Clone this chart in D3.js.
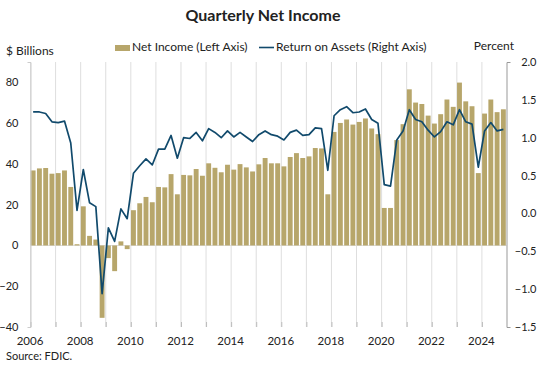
<!DOCTYPE html>
<html>
<head>
<meta charset="utf-8">
<script src="https://cdn.jsdelivr.net/npm/d3@7"></script>
<style>
  body { margin: 0; background: #fff; }
  text { font-family: Lato, "Noto Sans", sans-serif; fill: #222; }
</style>
</head>
<body>
<div id="chart"></div>
<script>
// quarterly data 2006Q1 .. 2024Q4
const firstYear = 2006;
const lastYear = 2024;

// net income, $ billions (left axis)
const netIncome = [
  36.8, 37.8, 38.0, 35.2,
  35.5, 36.8, 28.7, 0.6,
  19.2, 4.7, 2.9, -35.5,
  -6.2, -12.6, 2.0, -1.8,
  17.3, 20.7, 23.8, 21.2,
  28.7, 28.5, 35.0, 25.1,
  34.6, 34.4, 37.5, 34.2,
  40.3, 38.1, 35.9, 39.6,
  37.2, 39.9, 38.3, 36.3,
  39.8, 42.9, 40.3, 40.3,
  38.8, 43.4, 45.3, 42.9,
  43.7, 47.8, 47.6, 25.1,
  55.7, 60.1, 61.8, 59.3,
  60.6, 62.3, 57.4, 54.6,
  18.4, 18.4, 51.7, 59.5,
  76.6, 70.1, 69.4, 63.7,
  59.8, 64.4, 71.6, 68.0,
  79.9, 70.7, 68.3, 35.5,
  64.7, 71.6, 65.4, 66.8
];

// return on assets, percent (right axis)
const roa = [
  1.34, 1.34, 1.32, 1.21,
  1.20, 1.22, 0.93, 0.04,
  0.58, 0.14, 0.09, -1.06,
  -0.19, -0.37, 0.06, -0.07,
  0.53, 0.63, 0.72, 0.64,
  0.85, 0.85, 1.03, 0.73,
  1.00, 0.99, 1.07, 0.96,
  1.12, 1.07, 1.00, 1.09,
  1.01, 1.07, 1.01, 0.95,
  1.04, 1.09, 1.04, 1.02,
  0.97, 1.07, 1.10, 1.03,
  1.04, 1.13, 1.12, 0.57,
  1.29, 1.37, 1.41, 1.33,
  1.34, 1.38, 1.24, 1.19,
  0.38, 0.36, 0.97, 1.09,
  1.37, 1.24, 1.21, 1.10,
  1.01, 1.08, 1.21, 1.17,
  1.37, 1.21, 1.18, 0.61,
  1.09, 1.20, 1.09, 1.11
];

const leftTicks = [-40, -20, 0, 20, 40, 60, 80];
const rightTicks = [-1.5, -1.0, -0.5, 0.0, 0.5, 1.0, 1.5, 2.0];
const yearLabels = [2006, 2008, 2010, 2012, 2014, 2016, 2018, 2020, 2022, 2024];

const barColor = "#b7a66b";
const lineColor = "#114a6c";
const gridColor = "#dedede";

const svgWidth = 540;
const svgHeight = 367;
const plot = { left: 30, right: 506.5, top: 62, bottom: 327 };

const svg = d3.select("#chart")
  .append("svg")
  .attr("width", svgWidth)
  .attr("height", svgHeight);

const quarters = d3.range(netIncome.length);

// scales
const xBand = d3.scaleBand()
  .domain(quarters)
  .range([plot.left, plot.right])
  .paddingInner(0.22)
  .paddingOuter(0.11);

const xYear = d3.scaleLinear()
  .domain([firstYear, lastYear + 1])
  .range([plot.left, plot.right]);

const yLeft = d3.scaleLinear()
  .domain([-40, 90])
  .range([plot.bottom, plot.top]);

const yRight = d3.scaleLinear()
  .domain([-1.5, 2.0])
  .range([plot.bottom, plot.top]);

// vertical year gridlines
svg.append("g")
  .selectAll("line")
  .data(d3.range(firstYear, lastYear + 1))
  .join("line")
  .attr("x1", d => xYear(d) + 0.5)
  .attr("x2", d => xYear(d) + 0.5)
  .attr("y1", plot.top)
  .attr("y2", plot.bottom)
  .attr("stroke", gridColor)
  .attr("stroke-width", 1);

// small year ticks at the bottom
svg.append("g")
  .attr("transform", `translate(0.5,${plot.bottom})`)
  .call(d3.axisBottom(xYear)
    .tickValues(d3.range(firstYear, lastYear + 1))
    .tickSizeInner(-5)
    .tickSizeOuter(0)
    .tickFormat(""))
  .call(g => g.select(".domain").remove())
  .call(g => g.selectAll(".tick line").attr("stroke", "#bbb"));

// zero line
svg.append("line")
  .attr("x1", plot.left)
  .attr("x2", plot.right)
  .attr("y1", Math.round(yLeft(0)) + 0.5)
  .attr("y2", Math.round(yLeft(0)) + 0.5)
  .attr("stroke", gridColor);

// bars
svg.append("g")
  .selectAll("rect")
  .data(quarters)
  .join("rect")
  .attr("x", i => xBand(i))
  .attr("width", xBand.bandwidth())
  .attr("y", i => yLeft(Math.max(0, netIncome[i])))
  .attr("height", i => Math.abs(yLeft(netIncome[i]) - yLeft(0)))
  .attr("fill", barColor);

// ROA line
const line = d3.line()
  .x(i => xBand(i) + xBand.bandwidth() / 2)
  .y(i => yRight(roa[i]));

svg.append("path")
  .datum(quarters)
  .attr("d", line)
  .attr("fill", "none")
  .attr("stroke", lineColor)
  .attr("stroke-width", 1.7)
  .attr("stroke-linejoin", "round");

// left axis
svg.append("g")
  .attr("transform", `translate(${plot.left + 0.5},0)`)
  .call(d3.axisLeft(yLeft).tickValues(leftTicks).tickSizeInner(0).tickSizeOuter(3).tickPadding(12))
  .call(g => g.select(".domain").attr("stroke", "#ccc"))
  .call(g => g.selectAll(".tick text")
    .attr("font-size", "11px")
    .attr("fill", "#222"));

// right axis
svg.append("g")
  .attr("transform", `translate(${plot.right},0)`)
  .call(d3.axisRight(yRight).tickValues(rightTicks).tickFormat(d3.format(".1f"))
    .tickSizeInner(0).tickSizeOuter(4).tickPadding(30))
  .call(g => g.select(".domain").attr("stroke", "#999"))
  .call(g => g.selectAll(".tick text")
    .attr("text-anchor", "end")
    .attr("font-size", "11px")
    .attr("fill", "#222"));

// year labels
svg.append("g")
  .selectAll("text")
  .data(yearLabels)
  .join("text")
  .attr("x", d => xYear(d))
  .attr("y", 345)
  .attr("text-anchor", "middle")
  .attr("font-size", "11.5px")
  .text(d => d);

// title
svg.append("text")
  .attr("x", 263)
  .attr("y", 21)
  .attr("text-anchor", "middle")
  .attr("font-size", "16px")
  .attr("font-weight", "bold")
  .text("Quarterly Net Income");

// axis captions
svg.append("text")
  .attr("x", 6)
  .attr("y", 55)
  .attr("font-size", "12px")
  .text("$ Billions");

svg.append("text")
  .attr("x", 514)
  .attr("y", 50)
  .attr("text-anchor", "end")
  .attr("font-size", "12px")
  .text("Percent");

// legend
const legend = svg.append("g");
legend.append("rect")
  .attr("x", 115).attr("y", 45)
  .attr("width", 15).attr("height", 6)
  .attr("fill", barColor);
legend.append("text")
  .attr("x", 132).attr("y", 51)
  .attr("font-size", "12px")
  .text("Net Income (Left Axis)");
legend.append("line")
  .attr("x1", 259).attr("x2", 274)
  .attr("y1", 47.5).attr("y2", 47.5)
  .attr("stroke", lineColor)
  .attr("stroke-width", 1.6);
legend.append("text")
  .attr("x", 276).attr("y", 51)
  .attr("font-size", "12px")
  .text("Return on Assets (Right Axis)");

// source
svg.append("text")
  .attr("x", 6)
  .attr("y", 360)
  .attr("font-size", "11px")
  .text("Source: FDIC.");
</script>
</body>
</html>
